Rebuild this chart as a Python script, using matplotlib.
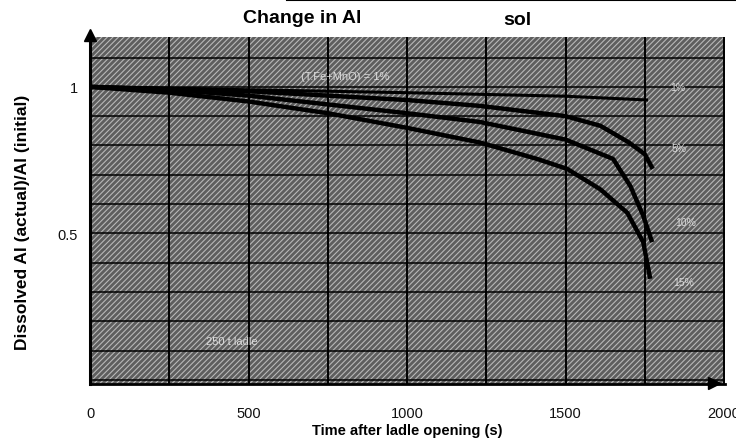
import numpy as np
import matplotlib
matplotlib.use("Agg")
import matplotlib.pyplot as plt
from matplotlib.lines import Line2D
from matplotlib.patches import Rectangle

plt.rcParams['font.family'] = ['Liberation Sans Narrow', 'Liberation Sans', 'DejaVu Sans']
plt.rcParams['hatch.linewidth'] = 0.8

t_1pct  = [0, 500, 1000, 1500, 1760]
al_1pct = [1.0, 0.99, 0.98, 0.968, 0.955]

t_5pct  = [0, 500, 1000, 1230, 1500, 1610, 1700, 1750, 1775]
al_5pct = [1.0, 0.985, 0.955, 0.935, 0.90, 0.867, 0.81, 0.77, 0.72]

t_10pct  = [0, 250, 500, 750, 1000, 1230, 1500, 1650, 1705, 1745, 1773]
al_10pct = [1.0, 0.99, 0.97, 0.94, 0.91, 0.88, 0.82, 0.754, 0.66, 0.56, 0.47]

t_15pct  = [0, 250, 500, 750, 1000, 1230, 1410, 1505, 1610, 1695, 1745, 1767]
al_15pct = [1.0, 0.98, 0.95, 0.91, 0.86, 0.81, 0.754, 0.72, 0.65, 0.57, 0.47, 0.345]

curve_labels = ["1%", "5%", "10%", "15%"]
xtick_vals = [0, 500, 1000, 1500, 2000]
ytick_vals = [0.5, 1]
ytick_labels = ["0.5", "1"]

fig = plt.figure(figsize=(7.36, 4.39), dpi=100)
ax = fig.add_axes([0.1223, 0.123, 0.8628, 0.7904])

### halftone-ish background
ax.patch.set_visible(False)
bg = Rectangle((0, 0), 1, 1, transform=ax.transAxes, facecolor='#5e5e5e',
               edgecolor='#b8b8b8', hatch='//////', lw=0, zorder=0)
ax.add_patch(bg)

### grid
for xg in np.arange(0, 2001, 250):
    ax.axvline(xg, color='k', lw=1.4, zorder=1)
for yg in np.arange(0, 1.15, 0.1):
    ax.axhline(yg, color='k', lw=1.1, zorder=1)

ax.plot(t_1pct, al_1pct, color='k', lw=2.2, solid_capstyle='butt', zorder=3)
ax.plot(t_5pct, al_5pct, color='k', lw=3.2, solid_capstyle='butt', solid_joinstyle='round', zorder=3)
ax.plot(t_10pct, al_10pct, color='k', lw=3.2, solid_capstyle='butt', solid_joinstyle='round', zorder=3)
ax.plot(t_15pct, al_15pct, color='k', lw=3.2, solid_capstyle='butt', solid_joinstyle='round', zorder=3)

txtc = '#dcdcdc'
ax.text(1830, 1.0, curve_labels[0], color=txtc, fontsize=7.5, va='center', zorder=4)
ax.text(1835, 0.79, curve_labels[1], color=txtc, fontsize=7.5, va='center', zorder=4)
ax.text(1845, 0.54, curve_labels[2], color=txtc, fontsize=7.5, va='center', zorder=4)
ax.text(1840, 0.335, curve_labels[3], color=txtc, fontsize=7.5, va='center', zorder=4)
ax.text(805, 1.037, "(T.Fe+MnO) = 1%", color=txtc, fontsize=8, ha='center', va='center', zorder=4)
ax.text(448, 0.133, "250 t ladle", color=txtc, fontsize=8, ha='center', va='center', zorder=4)

ax.set_xlim(0, 2003)
ax.set_ylim(-0.014, 1.17)

ax.set_xticks(xtick_vals)
ax.set_yticks(ytick_vals)
ax.set_yticklabels(ytick_labels)
ax.tick_params(length=0, labelsize=10.5, colors='#111111')
ax.tick_params(axis='x', pad=16)
ax.tick_params(axis='y', pad=9)

for s in ['top', 'right']:
    ax.spines[s].set_visible(False)
ax.spines['left'].set_linewidth(2.2)
ax.spines['bottom'].set_linewidth(2.0)

### axis arrows
ax.plot(0, 1.178, marker='^', ms=8, color='k', clip_on=False, zorder=5)
ax.plot(1968, -0.012, marker='>', ms=8, color='k', clip_on=False, zorder=5)

ax.set_xlabel("Time after ladle opening (s)", fontsize=10.5, fontweight='bold')
ax.xaxis.label.set_va('center')
ax.xaxis.set_label_coords(0.5, -0.133)
ax.set_ylabel("Dissolved Al (actual)/Al (initial)", fontsize=12.5, fontweight='bold',
              family=['Liberation Sans', 'DejaVu Sans'])
ax.yaxis.label.set_va('center')
ax.yaxis.set_label_coords(-0.107, 0.47)

fig.text(0.41, 0.957, "Change in Al", fontsize=14, fontweight='bold', ha='center', va='center')
fig.text(0.703, 0.954, "sol", fontsize=14, fontweight='bold', ha='center', va='center')

### scan edge at top
fig.add_artist(Line2D([0.39, 1.0], [0.998, 0.998], color='k', lw=1.5))

fig.savefig("out.png", dpi=100)
